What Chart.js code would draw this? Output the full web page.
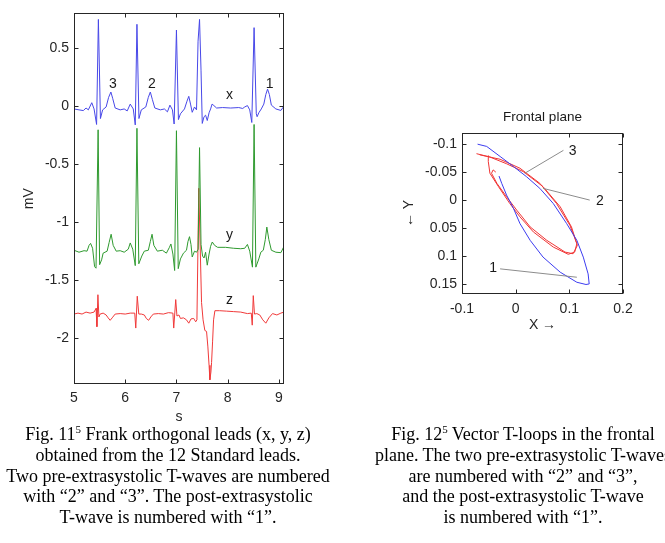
<!DOCTYPE html>
<html>
<head>
<meta charset="utf-8">
<script src="https://cdn.jsdelivr.net/npm/chart.js@4.4.0/dist/chart.umd.min.js"></script>
<style>
html, body { margin: 0; padding: 0; background: #fff; width: 665px; height: 543px; overflow: hidden; }
#leads { position: absolute; left: 0; top: 0; }
#loops { position: absolute; left: 380px; top: 100px; }
.cap {
    position: absolute; width: 360px; text-align: center; white-space: nowrap; color: #000;
    font-family: "Liberation Serif", "Times New Roman", serif; font-size: 18px; line-height: 20.8px;
}
.cap sup { font-size: 11px; line-height: 0; vertical-align: 7px; }
</style>
</head>
<body>
<canvas id="leads" width="300" height="430"></canvas>
<canvas id="loops" width="285" height="240"></canvas>
<div class="cap" style="left:-12px; top:424px">Fig. 11<sup>5</sup> Frank orthogonal leads (x, y, z)<br>obtained from the 12 Standard leads.<br>Two pre-extrasystolic T-waves are numbered<br>with “2” and “3”. The post-extrasystolic<br>T-wave is numbered with “1”.</div>
<div class="cap" style="left:343px; top:424px">Fig. 12<sup>5</sup> Vector T-loops in the frontal<br>plane. The two pre-extrasystolic T-waves<br>are numbered with “2” and “3”,<br>and the post-extrasystolic T-wave<br>is numbered with “1”.</div>
<script>
// Fig. 11 : Frank leads, [time s, mV]
const leadX = [[5.0,-0.025],[5.098,-0.033],[5.182,-0.039],[5.235,-0.017],[5.280,-0.033],[5.347,0.029],[5.392,-0.025],[5.441,-0.159],[5.476,0.748],[5.516,-0.108],[5.559,-0.033],[5.627,-0.008],[5.676,0.075],[5.720,0.121],[5.755,0.067],[5.804,-0.017],[5.902,-0.033],[5.980,-0.025],[6.039,-0.042],[6.098,0.017],[6.157,-0.025],[6.196,-0.163],[6.229,0.706],[6.268,-0.108],[6.314,-0.033],[6.402,-0.008],[6.451,0.075],[6.490,0.121],[6.529,0.058],[6.578,-0.017],[6.686,-0.033],[6.765,-0.025],[6.824,-0.050],[6.873,0.008],[6.922,-0.033],[6.955,-0.155],[7.0,0.656],[7.039,-0.117],[7.078,-0.067],[7.157,-0.025],[7.206,0.042],[7.241,0.084],[7.275,0.017],[7.308,-0.054],[7.353,-0.008],[7.392,-0.033],[7.422,0.56],[7.451,0.748],[7.480,0.31],[7.504,-0.150],[7.539,-0.092],[7.569,-0.079],[7.602,-0.125],[7.637,-0.058],[7.667,-0.025],[7.696,0.017],[7.731,0.004],[7.784,-0.017],[7.902,-0.013],[8.059,-0.017],[8.216,-0.013],[8.294,-0.021],[8.333,-0.008],[8.386,0.004],[8.431,-0.033],[8.471,-0.142],[8.516,0.677],[8.559,-0.067],[8.575,-0.092],[8.608,-0.058],[8.657,-0.025],[8.706,0.017],[8.745,0.100],[8.779,0.146],[8.814,0.100],[8.853,0.008],[8.941,-0.025],[9.039,-0.038],[9.1,0.0]]
const leadY = [[5.0,-1.245],[5.098,-1.262],[5.196,-1.249],[5.255,-1.253],[5.294,-1.203],[5.324,-1.186],[5.363,-1.228],[5.402,-1.387],[5.43,-1.40],[5.471,-0.205],[5.50,-1.37],[5.539,-1.328],[5.569,-1.270],[5.647,-1.253],[5.686,-1.178],[5.725,-1.107],[5.765,-1.203],[5.824,-1.253],[5.902,-1.249],[5.980,-1.262],[6.059,-1.236],[6.098,-1.182],[6.147,-1.236],[6.196,-1.378],[6.229,-0.192],[6.265,-1.362],[6.324,-1.295],[6.373,-1.253],[6.451,-1.245],[6.490,-1.170],[6.524,-1.107],[6.559,-1.203],[6.627,-1.253],[6.725,-1.245],[6.804,-1.270],[6.863,-1.220],[6.892,-1.191],[6.931,-1.278],[6.965,-1.420],[7.0,-0.213],[7.035,-1.404],[7.078,-1.320],[7.137,-1.270],[7.196,-1.245],[7.225,-1.170],[7.255,-1.128],[7.284,-1.195],[7.308,-1.303],[7.353,-1.253],[7.392,-1.262],[7.424,-1.236],[7.451,-0.359],[7.480,-1.195],[7.510,-1.295],[7.539,-1.312],[7.569,-1.262],[7.602,-1.374],[7.637,-1.278],[7.667,-1.211],[7.700,-1.174],[7.745,-1.203],[7.804,-1.220],[7.961,-1.220],[8.118,-1.228],[8.255,-1.232],[8.333,-1.228],[8.386,-1.195],[8.431,-1.253],[8.484,-1.391],[8.516,-0.159],[8.55,-1.391],[8.608,-1.320],[8.647,-1.262],[8.696,-1.245],[8.735,-1.153],[8.765,-1.045],[8.804,-1.153],[8.853,-1.245],[8.941,-1.262],[9.039,-1.266],[9.1,-1.211]]
const leadZ = [[5.0,-1.796],[5.078,-1.788],[5.157,-1.796],[5.235,-1.779],[5.314,-1.788],[5.392,-1.779],[5.431,-1.746],[5.447,-1.905],[5.467,-1.629],[5.486,-1.821],[5.510,-1.796],[5.569,-1.788],[5.627,-1.804],[5.667,-1.829],[5.706,-1.850],[5.745,-1.829],[5.804,-1.796],[5.902,-1.792],[6.0,-1.796],[6.098,-1.788],[6.186,-1.788],[6.206,-1.917],[6.235,-1.642],[6.265,-1.796],[6.314,-1.796],[6.373,-1.804],[6.412,-1.834],[6.457,-1.850],[6.500,-1.821],[6.549,-1.796],[6.647,-1.792],[6.745,-1.796],[6.843,-1.784],[6.931,-1.788],[6.947,-1.917],[6.986,-1.671],[7.010,-1.813],[7.049,-1.804],[7.078,-1.834],[7.137,-1.829],[7.196,-1.846],[7.241,-1.875],[7.284,-1.838],[7.337,-1.834],[7.376,-1.863],[7.400,-1.846],[7.436,-0.710],[7.490,-1.696],[7.520,-1.846],[7.555,-1.938],[7.588,-1.946],[7.614,-2.080],[7.637,-2.239],[7.653,-2.364],[7.673,-2.297],[7.686,-2.214],[7.706,-2.030],[7.725,-1.846],[7.751,-1.767],[7.843,-1.767],[7.980,-1.771],[8.118,-1.775],[8.255,-1.779],[8.386,-1.792],[8.461,-1.788],[8.480,-1.892],[8.500,-1.637],[8.524,-1.796],[8.569,-1.792],[8.627,-1.804],[8.686,-1.846],[8.745,-1.875],[8.804,-1.829],[8.876,-1.792],[8.961,-1.804],[9.039,-1.788],[9.1,-1.779]]
const timeTicks = [5, 6, 7, 8, 9]
const mvTicks = [0.5, 0, -0.5, -1, -1.5, -2]
const leadLabels = [['3', 5.757, 0.192], ['2', 6.519, 0.192], ['x', 8.036, 0.092], ['1', 8.818, 0.192], ['y', 8.036, -1.117], ['z', 8.036, -1.673]]

// Fig. 12 : T-loops in the frontal plane, [X, Y]
const loop1 = [[-0.071,-0.100],[-0.054,-0.096],[-0.029,-0.078],[-0.004,-0.060],[0.020,-0.042],[0.045,-0.021],[0.070,0.006],[0.095,0.042],[0.114,0.072],[0.126,0.102],[0.135,0.132],[0.137,0.150],[0.131,0.151],[0.114,0.147],[0.083,0.129],[0.051,0.102],[0.027,0.072],[0.008,0.042],[-0.004,0.015],[-0.017,-0.009],[-0.026,-0.030],[-0.031,-0.043]]
const loop3 = [[-0.073,-0.083],[-0.048,-0.077],[-0.017,-0.065],[0.014,-0.051],[0.051,-0.024],[0.083,0.012],[0.104,0.048],[0.115,0.081],[0.107,0.096],[0.092,0.093],[0.058,0.072],[0.027,0.048],[0.002,0.018],[-0.017,-0.006],[-0.035,-0.030],[-0.045,-0.048],[-0.042,-0.054],[-0.037,-0.050]]
const loop2 = [[-0.067,-0.081],[-0.029,-0.073],[0.008,-0.057],[0.045,-0.030],[0.076,0.006],[0.101,0.045],[0.114,0.078],[0.110,0.093],[0.098,0.097],[0.070,0.084],[0.033,0.057],[0.008,0.030],[-0.011,0.006],[-0.032,-0.024],[-0.048,-0.048],[-0.051,-0.069],[-0.051,-0.080]]
const leader1 = [[-0.029,0.123],[0.114,0.138]]
const leader2 = [[0.138,0.0],[0.051,-0.021]]
const leader3 = [[0.089,-0.089],[0.017,-0.048]]
const loopLabels = [['3', 0.106, -0.087], ['2', 0.157, 0.001], ['1', -0.042, 0.121]]
const xTicks = [-0.1, 0, 0.1, 0.2]
const yTicks = [-0.1, -0.05, 0, 0.05, 0.1, 0.15]

const sans = '"Liberation Sans", Arial, sans-serif'
Chart.defaults.font.family = sans
Chart.defaults.font.size = 14
Chart.defaults.color = '#262626'

function pts(arr) {
    return arr.map(p => ({x: p[0], y: p[1]}))
}

function line(arr, color) {
    return {data: pts(arr), borderColor: color, borderWidth: 1, pointRadius: 0, tension: 0, fill: false}
}

// matlab like box with inward ticks on all four sides
const boxTicks = {
    id: 'boxTicks',
    afterDatasetsDraw(chart) {
        const ctx = chart.ctx
        const a = chart.chartArea
        const sx = chart.scales.x, sy = chart.scales.y
        const L = Math.round(a.left) + 0.5, R = Math.round(a.right) - 0.5
        const T = Math.round(a.top) + 0.5, B = Math.round(a.bottom) - 0.5
        ctx.save()
        ctx.strokeStyle = '#262626'
        ctx.lineWidth = 1
        ctx.strokeRect(L, T, R - L, B - T)
        ctx.beginPath()
        for (const t of sx.ticks) {
            const px = Math.round(sx.getPixelForValue(t.value)) + 0.5
            ctx.moveTo(px, B); ctx.lineTo(px, B - 4)
            ctx.moveTo(px, T); ctx.lineTo(px, T + 4)
        }
        for (const t of sy.ticks) {
            const py = Math.round(sy.getPixelForValue(t.value)) + 0.5
            ctx.moveTo(L, py); ctx.lineTo(L + 4, py)
            ctx.moveTo(R, py); ctx.lineTo(R - 4, py)
        }
        ctx.stroke()
        ctx.restore()
    }
}

function textMarks(items, title) {
    return {
        id: 'textMarks',
        afterDatasetsDraw(chart) {
            const ctx = chart.ctx
            const sx = chart.scales.x, sy = chart.scales.y
            ctx.save()
            ctx.fillStyle = '#1a1a1a'
            ctx.font = '14px ' + sans
            ctx.textAlign = 'center'
            ctx.textBaseline = 'middle'
            for (const it of items) {
                ctx.fillText(it[0], sx.getPixelForValue(it[1]), sy.getPixelForValue(it[2]))
            }
            if (title) {
                const a = chart.chartArea
                ctx.font = '13.5px ' + sans
                ctx.fillText(title, (a.left + a.right) / 2, a.top - 16)
            }
            ctx.restore()
        }
    }
}

function axis(min, max, ticks, fitSize, title, titlePad, extra) {
    return Object.assign({
        type: 'linear', min: min, max: max,
        grid: {display: false, drawTicks: false},
        border: {display: false},
        afterBuildTicks: s => { s.ticks = ticks.map(v => ({value: v})) },
        ticks: {padding: 5, autoSkip: false, maxRotation: 0, callback: v => String(v)},
        title: {display: true, text: title, padding: titlePad, font: {size: 14}}
    }, extra, {
        afterFit: s => { if (s.isHorizontal()) s.height = fitSize; else s.width = fitSize }
    })
}

new Chart(document.getElementById('leads'), {
    type: 'line',
    data: {
        datasets: [
            line(leadX, '#4848e8'),
            line(leadY, '#2f9a2f'),
            line(leadZ, '#f03a3a')
        ]
    },
    options: {
        responsive: false, animation: false, devicePixelRatio: 1,
        layout: {padding: {top: 1, right: 16, left: 0, bottom: 0}},
        plugins: {legend: {display: false}, tooltip: {enabled: false}},
        scales: {
            x: axis(5, 9.1, timeTicks, 46, 's', {top: 0, bottom: 4}, {ticks: {padding: 6, autoSkip: false, maxRotation: 0, callback: v => String(v)}}),
            y: axis(-2.4, 0.8, mvTicks, 74, 'mV', {top: 21, bottom: 0})
        }
    },
    plugins: [boxTicks, textMarks(leadLabels)]
})

new Chart(document.getElementById('loops'), {
    type: 'line',
    data: {
        datasets: [
            line(leader1, '#8c8c8c'),
            line(leader2, '#8c8c8c'),
            line(leader3, '#8c8c8c'),
            line(loop1, '#3c3cf0'),
            line(loop2, '#f03434'),
            line(loop3, '#f03434')
        ]
    },
    options: {
        responsive: false, animation: false, devicePixelRatio: 1,
        layout: {padding: {top: 33, right: 42, left: 0, bottom: 0}},
        plugins: {legend: {display: false}, tooltip: {enabled: false}},
        scales: {
            x: axis(-0.1, 0.2, xTicks, 46, 'X \u2192', {top: 0, bottom: 6}, {ticks: {padding: 7, autoSkip: false, maxRotation: 0, callback: v => String(v)}}),
            y: axis(-0.12, 0.168, yTicks, 82, '\u2190 Y', {top: 21, bottom: 0}, {reverse: true})
        }
    },
    plugins: [boxTicks, textMarks(loopLabels, 'Frontal plane')]
})
</script>
</body>
</html>
